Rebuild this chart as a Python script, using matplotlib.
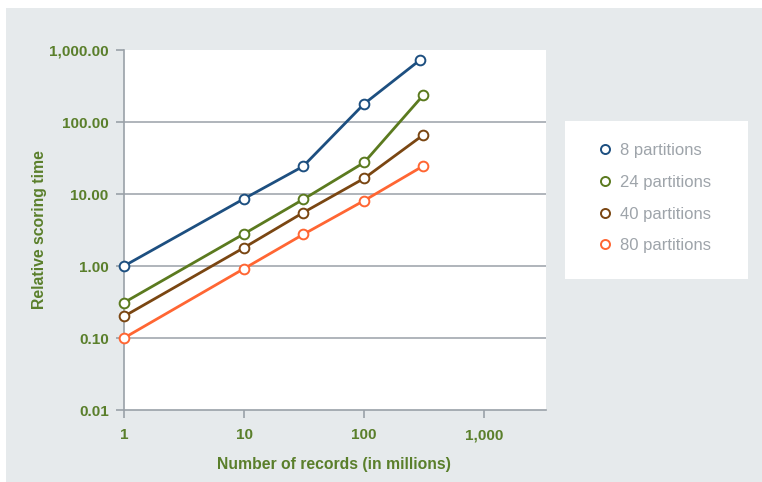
import matplotlib
matplotlib.use("Agg")
import matplotlib.pyplot as plt
from matplotlib.patches import Rectangle
from matplotlib.lines import Line2D

FONT = ['Liberation Sans Narrow', 'Liberation Sans', 'DejaVu Sans']
plt.rcParams['font.family'] = FONT

# Data
series_names = ["8 partitions", "24 partitions", "40 partitions", "80 partitions"]
x_8 = [1, 10, 31, 100, 290]
y_8 = [1.0, 8.6, 24.2, 179, 720]
x_24 = [1, 10, 31, 100, 310]
y_24 = [0.31, 2.8, 8.4, 27.4, 235]
x_40 = [1, 10, 31, 100, 310]
y_40 = [0.20, 1.80, 5.5, 16.5, 66]
x_80 = [1, 10, 31, 100, 310]
y_80 = [0.10, 0.92, 2.74, 8.1, 24.5]
colors = ["#1d4f80", "#5b7a1f", "#7a4612", "#ff6633"]

x_ticks = [1, 10, 100, 1000]
x_ticklabels = ["1", "10", "100", "1,000"]
y_ticks = [0.01, 0.1, 1, 10, 100, 1000]
y_ticklabels = ["0.01", "0.10", "1.00", "10.00", "100.00", "1,000.00"]

W, H = 762, 482
fig = plt.figure(figsize=(W / 100, H / 100), dpi=100)
fig.patch.set_facecolor("white")
bg = Rectangle((6 / W, 0), 1 - 6 / W, 1 - 8 / H, transform=fig.transFigure,
               facecolor="#e6eaec", edgecolor="none", zorder=-10)
fig.add_artist(bg)
legbox = Rectangle((565 / W, 1 - 279 / H), (748 - 565) / W, (279 - 121) / H,
                   transform=fig.transFigure, facecolor="white",
                   edgecolor="none", zorder=-5)
fig.add_artist(legbox)

ax = fig.add_axes([124 / W, 1 - 410 / H, (545.5 - 124) / W, (410 - 50) / H])
ax.set_zorder(1)
ax.set_facecolor("white")
ax.set_xscale("log")
ax.set_yscale("log")
ax.set_xlim(1, 10 ** 3.51)
ax.set_ylim(0.01, 1000)

grid_col = "#9aa1a8"
for yv in [0.1, 1, 10, 100]:
    ax.axhline(yv, color=grid_col, lw=1.1, zorder=1)

xs = [x_8, x_24, x_40, x_80]
ys = [y_8, y_24, y_40, y_80]
for xv, yv, c, name in zip(xs, ys, colors, series_names):
    ax.plot(xv, yv, color=c, lw=2.0, marker="o", ms=7, mfc="white", mec=c, mew=1.4,
            zorder=3, clip_on=False, label=name)

for s in ["top", "right"]:
    ax.spines[s].set_visible(False)
for s in ["left", "bottom"]:
    ax.spines[s].set_color(grid_col)
    ax.spines[s].set_linewidth(1.2)

label_col = "#5a7f2b"
ax.set_xticks(x_ticks)
ax.set_xticklabels(x_ticklabels)
ax.set_yticks(y_ticks)
ax.set_yticklabels(y_ticklabels)
ax.minorticks_off()
ax.tick_params(axis="both", colors=grid_col, length=6, width=1.2, labelcolor=label_col,
               labelsize=11)
ax.tick_params(axis="x", pad=7)
ax.tick_params(axis="y", pad=5)
for t in ax.get_xticklabels() + ax.get_yticklabels():
    t.set_fontweight("bold")

fig.text(334 / W, 1 - 465 / H, "Number of records (in millions)", ha="center", va="center",
         color=label_col, fontsize=11.3, fontweight="bold")
fig.text(40 / W, 1 - 230 / H, "Relative scoring time", ha="center", va="center",
         rotation=90, color=label_col, fontsize=11.3, fontweight="bold")

handles = [Line2D([], [], ls="none", marker="o", ms=6.5, mfc="white", mec=c, mew=1.4)
           for c in colors]
leg = fig.legend(handles, series_names, loc="upper left",
                 bbox_to_anchor=(590 / W, 1 - 135 / H), frameon=False,
                 handlelength=0.8, handletextpad=0.5, labelspacing=1.0,
                 prop={"family": FONT, "size": 12}, borderpad=0)
for t in leg.get_texts():
    t.set_color("#9ea4aa")

fig.savefig("out.png", dpi=100)
